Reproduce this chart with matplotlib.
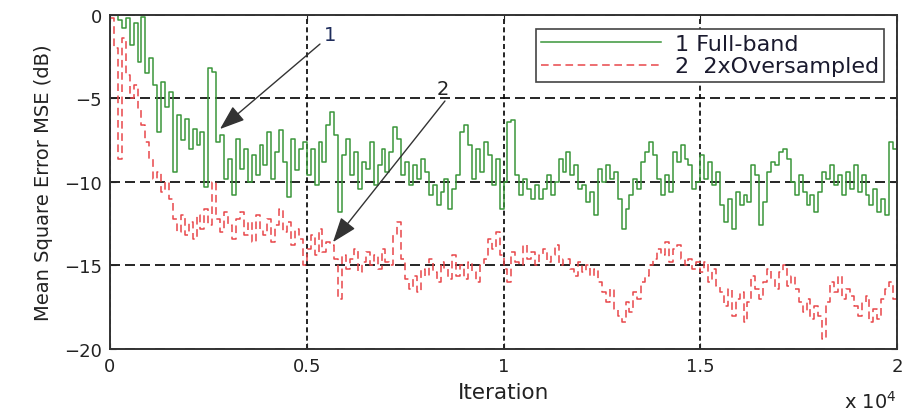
import matplotlib
matplotlib.use('Agg')
import matplotlib.pyplot as plt
from matplotlib.ticker import FuncFormatter
import numpy as np

# sample spacing of the curves (iterations)
iterations = np.arange(0, 20001, 100)

full_band = [
    0.5, 0.2, -0.3, -0.8, -0.2, -1.8, -0.5, -2.8, -0.1, -3.5,
    -2.6, -4.2, -7.0, -4.0, -5.5, -4.6, -9.4, -6.0, -7.5, -6.2,
    -8.0, -6.8, -7.8, -7.0, -10.3, -3.2, -3.4, -7.6, -7.2, -9.8,
    -8.6, -10.8, -7.4, -9.2, -8.0, -10.0, -8.4, -9.6, -7.8, -9.0,
    -7.0, -9.8, -8.2, -6.9, -8.8, -10.9, -7.4, -9.3, -8.0, -7.6,
    -9.6, -8.0, -10.2, -7.6, -8.8, -6.6, -5.8, -7.2, -11.8, -8.4,
    -7.4, -9.6, -8.2, -10.4, -8.8, -9.2, -7.6, -10.2, -9.0, -8.0,
    -9.4, -8.2, -6.7, -7.4, -9.6, -8.8, -10.2, -9.0, -9.8, -8.6,
    -9.4, -10.8, -10.2, -11.4, -10.6, -9.8, -11.6, -10.4, -9.6, -7.0,
    -6.6, -7.8, -9.8, -8.0, -9.4, -7.6, -8.4, -10.2, -8.6, -11.6,
    -10.0, -6.4, -6.3, -9.6, -10.8, -9.8, -10.4, -11.0, -10.2, -11.0,
    -10.4, -9.6, -10.8, -10.0, -8.6, -9.4, -8.2, -9.6, -9.0, -10.4,
    -10.2, -11.2, -10.6, -12.0, -9.2, -10.0, -9.0, -9.8, -9.4, -11.0,
    -12.8, -11.6, -10.8, -9.8, -10.4, -8.8, -8.2, -7.6, -8.4, -9.8,
    -10.8, -9.6, -10.6, -8.2, -8.8, -7.8, -8.6, -9.0, -10.4, -10.0,
    -8.4, -9.8, -8.8, -10.2, -9.4, -11.4, -12.4, -11.0, -12.8, -10.6,
    -11.4, -10.8, -11.2, -9.0, -9.6, -12.6, -11.2, -9.4, -8.8, -9.0,
    -8.2, -8.0, -8.6, -10.0, -10.8, -9.6, -10.6, -11.4, -10.8, -11.8,
    -10.6, -9.4, -9.8, -9.0, -10.2, -9.6, -10.8, -9.4, -10.4, -9.0,
    -10.6, -9.6, -10.8, -11.4, -10.4, -11.8, -11.0, -12.0, -7.6, -8.0,
    -11.8,
]

oversampled = [
    -0.2, -2.0, -8.6, -1.4, -3.6, -5.0, -4.2, -5.6, -6.6, -7.6,
    -8.6, -9.8, -9.4, -10.6, -10.0, -11.0, -12.2, -13.0, -12.0, -13.2,
    -12.4, -13.4, -12.0, -12.8, -11.6, -12.6, -10.0, -12.2, -13.0, -11.8,
    -12.6, -13.4, -12.2, -11.8, -13.2, -12.4, -13.6, -12.0, -12.8, -13.2,
    -12.2, -13.6, -12.6, -11.6, -13.0, -12.4, -13.8, -12.8, -13.4, -15.0,
    -14.0, -13.2, -14.4, -12.8, -14.2, -13.6, -13.8, -14.6, -17.0, -14.4,
    -15.2, -14.6, -14.0, -15.4, -14.8, -14.2, -15.0, -14.4, -15.2, -14.0,
    -14.8, -15.0, -13.2, -12.4, -14.6, -15.8, -16.4, -15.6, -16.6, -15.2,
    -15.6, -14.6, -15.4, -16.0, -14.8, -15.2, -15.8, -14.4, -15.6, -15.0,
    -15.8, -14.8, -15.4, -16.0, -15.0, -14.6, -13.4, -14.0, -13.0, -14.4,
    -15.2, -16.0, -14.2, -14.8, -15.0, -13.8, -14.6, -14.2, -15.0, -14.4,
    -14.0, -14.8, -14.4, -13.8, -15.0, -14.6, -14.6, -15.2, -15.6, -14.8,
    -15.4, -15.0, -15.6, -15.2, -16.0, -16.6, -17.2, -16.4, -17.6, -18.0,
    -18.4, -17.2, -17.8, -16.6, -17.0, -16.0, -15.6, -15.0, -14.6, -14.0,
    -14.4, -13.6, -14.8, -14.0, -13.8, -14.6, -15.0, -14.6, -15.2, -14.8,
    -15.4, -14.8, -16.0, -15.2, -16.2, -16.6, -17.4, -16.4, -18.0, -17.0,
    -16.6, -18.4, -17.2, -15.6, -16.4, -17.0, -16.0, -15.2, -15.8, -16.4,
    -15.4, -15.0, -16.2, -15.6, -16.4, -17.2, -17.8, -17.0, -18.2, -17.4,
    -18.0, -19.4, -17.2, -16.0, -16.6, -15.6, -17.0, -16.4, -16.8, -17.4,
    -18.0, -17.2, -16.8, -18.4, -17.6, -18.2, -17.0, -16.4, -16.0, -17.0,
    -16.2,
]

x_ticks = [0, 5000, 10000, 15000, 20000]
y_ticks = [-20, -15, -10, -5, 0]

green = '#3a963a'
red = '#e8474a'

fig = plt.figure(figsize=(9.03, 4.14), dpi=100)
ax = fig.add_axes([0.1218, 0.1546, 0.8716, 0.8068])

ax.plot(iterations, full_band, color=green, lw=1.1, drawstyle='steps-post',
        label='1 Full-band')
ax.plot(iterations, oversampled, color=red, lw=1.1, drawstyle='steps-post',
        dashes=(5, 3), label='2  2xOversampled')

ax.set_xlim(0, 20000)
ax.set_ylim(-20, 0)
ax.set_xticks(x_ticks)
ax.set_yticks(y_ticks)
ax.xaxis.set_major_formatter(FuncFormatter(lambda v, _: f'{v / 1e4:g}'))

# dashed black grid, matlab style
ax.xaxis.grid(True, color='k', lw=1.2, linestyle=(0, (3, 2)))
ax.yaxis.grid(True, color='k', lw=1.2, linestyle=(0, (6, 3)))

ax.tick_params(direction='in', top=True, right=True, length=4,
               labelsize=13, pad=6, colors='#222222')
for s in ax.spines.values():
    s.set_color('#333333')
    s.set_linewidth(1.4)

ax.set_xlabel('Iteration', fontsize=15.5, color='#222222', labelpad=5)
ax.set_ylabel('Mean Square Error MSE (dB)', fontsize=14, color='#222222',
              labelpad=8)
ax.text(0.999, -0.155, r'x 10$^4$', transform=ax.transAxes, ha='right',
        va='center', fontsize=14, color='#222222')

# arrows pointing at the two curves
head = dict(arrowstyle='-|>,head_length=1.1,head_width=0.4', color='#333333',
            lw=1.0, shrinkA=0, shrinkB=0)
ax.annotate('', xy=(2795, -6.83), xytext=(5336, -1.74), arrowprops=head,
            fontsize=14)
ax.annotate('', xy=(5666, -13.6), xytext=(8512, -5.15), arrowprops=head,
            fontsize=14)
ax.text(5590, -1.14, '1', fontsize=14, color='#1f2d5c', ha='center',
        va='center')
ax.text(8462, -4.43, '2', fontsize=14, color='#222222', ha='center',
        va='center')

leg = ax.legend(loc='upper right', bbox_to_anchor=(0.984, 0.959),
                fontsize=16, handlelength=5.4, handletextpad=0.6,
                borderpad=0.25, labelspacing=0.1, fancybox=False,
                framealpha=1, edgecolor='#444444', borderaxespad=0)
leg.get_frame().set_linewidth(1.2)
for t in leg.get_texts():
    t.set_color('#1a1a2e')

plt.savefig('out.png', dpi=100)
